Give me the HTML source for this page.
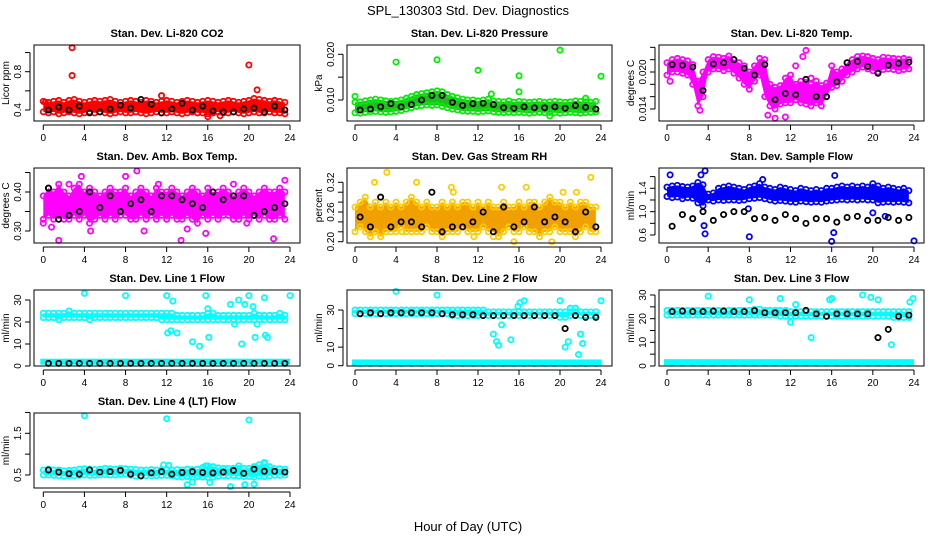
<!DOCTYPE html>
<html><head><meta charset="utf-8"><style>
body{margin:0;background:#fff;}
svg{display:block;font-family:"Liberation Sans",sans-serif;}
</style></head><body>
<svg id="chart" width="936" height="540" viewBox="0 0 936 540">
<text x="468" y="15" text-anchor="middle" font-size="13">SPL_130303  Std. Dev. Diagnostics</text>
<text x="468" y="531" text-anchor="middle" font-size="13">Hour of Day (UTC)</text>
</svg>
<script>
const hours=[0,0.5,1,1.5,2,2.5,3,3.5,4,4.5,5,5.5,6,6.5,7,7.5,8,8.5,9,9.5,10,10.5,11,11.5,12,12.5,13,13.5,14,14.5,15,15.5,16,16.5,17,17.5,18,18.5,19,19.5,20,20.5,21,21.5,22,22.5,23,23.5];
const blkHours=[0.5,1.5,2.5,3.5,4.5,5.5,6.5,7.5,8.5,9.5,10.5,11.5,12.5,13.5,14.5,15.5,16.5,17.5,18.5,19.5,20.5,21.5,22.5,23.5];
const xTicks=[0,4,8,12,16,20,24];

const co2Hi=[0.49,0.48,0.49,0.50,0.48,0.50,0.51,0.49,0.48,0.49,0.50,0.49,0.50,0.51,0.49,0.48,0.49,0.50,0.49,0.48,0.50,0.49,0.48,0.49,0.50,0.49,0.48,0.49,0.50,0.49,0.48,0.49,0.50,0.49,0.48,0.49,0.50,0.49,0.48,0.49,0.50,0.52,0.51,0.50,0.49,0.50,0.49,0.48];
const co2Lo=[0.38,0.37,0.38,0.36,0.37,0.38,0.37,0.36,0.37,0.38,0.37,0.38,0.37,0.36,0.37,0.38,0.37,0.37,0.38,0.37,0.36,0.37,0.38,0.37,0.37,0.38,0.37,0.36,0.37,0.38,0.37,0.37,0.36,0.37,0.38,0.37,0.37,0.38,0.37,0.36,0.37,0.38,0.37,0.37,0.38,0.37,0.37,0.36];
const co2Blk=[0.40,0.43,0.40,0.44,0.37,0.38,0.41,0.45,0.42,0.51,0.46,0.37,0.41,0.47,0.40,0.44,0.39,0.38,0.38,0.41,0.42,0.38,0.44,0.40];
const co2OutX=[2.8,2.8,20,20.8,11.5,16,17.2,0.2];
const co2OutY=[1.05,0.76,0.87,0.61,0.55,0.33,0.34,0.48];

const prHi=[0.0095,0.0096,0.0098,0.0100,0.0102,0.0100,0.0098,0.0097,0.0098,0.0100,0.0104,0.0108,0.0112,0.0114,0.0116,0.0118,0.0120,0.0118,0.0112,0.0108,0.0105,0.0102,0.0100,0.0100,0.0098,0.0100,0.0102,0.0098,0.0097,0.0096,0.0098,0.0095,0.0097,0.0096,0.0095,0.0096,0.0097,0.0095,0.0096,0.0097,0.0096,0.0095,0.0096,0.0098,0.0097,0.0096,0.0095,0.0097];
const prLo=[0.0072,0.0071,0.0073,0.0074,0.0075,0.0074,0.0073,0.0074,0.0075,0.0077,0.0080,0.0083,0.0086,0.0088,0.0089,0.0088,0.0089,0.0086,0.0083,0.0080,0.0078,0.0076,0.0075,0.0075,0.0074,0.0075,0.0076,0.0074,0.0073,0.0072,0.0073,0.0072,0.0073,0.0072,0.0071,0.0072,0.0073,0.0072,0.0073,0.0072,0.0071,0.0072,0.0073,0.0072,0.0071,0.0072,0.0073,0.0074];
const prBlk=[0.0078,0.0080,0.0085,0.0092,0.0085,0.0090,0.0100,0.0110,0.0110,0.0095,0.0088,0.0092,0.0093,0.0090,0.0083,0.0082,0.0085,0.0083,0.0083,0.0085,0.0082,0.0088,0.0084,0.0080];
const prOutX=[0,4,8,12,16,20,24,19,13.3,16,22.5];
const prOutY=[0.0108,0.0183,0.0188,0.0165,0.0153,0.0209,0.0152,0.0065,0.0113,0.0118,0.0104];

const tHi=[0.0215,0.0220,0.0222,0.0220,0.0218,0.0212,0.0185,0.0200,0.0220,0.0225,0.0224,0.0222,0.0226,0.0220,0.0215,0.0210,0.0200,0.0210,0.0222,0.0220,0.0180,0.0175,0.0178,0.0190,0.0195,0.0180,0.0185,0.0183,0.0180,0.0185,0.0178,0.0182,0.0210,0.0200,0.0205,0.0215,0.0220,0.0225,0.0226,0.0225,0.0222,0.0220,0.0224,0.0223,0.0222,0.0221,0.0222,0.0220];
const tLo=[0.0195,0.0200,0.0200,0.0198,0.0195,0.0180,0.0145,0.0160,0.0200,0.0205,0.0205,0.0202,0.0205,0.0198,0.0190,0.0180,0.0172,0.0185,0.0195,0.0160,0.0145,0.0140,0.0148,0.0150,0.0150,0.0155,0.0150,0.0148,0.0145,0.0150,0.0145,0.0160,0.0175,0.0178,0.0185,0.0195,0.0200,0.0205,0.0208,0.0205,0.0202,0.0200,0.0204,0.0205,0.0204,0.0202,0.0204,0.0205];
const tBlk=[0.0212,0.0211,0.0208,0.0170,0.0213,0.0215,0.0220,0.0206,0.0195,0.0212,0.0155,0.0165,0.0163,0.0188,0.0160,0.0160,0.0184,0.0215,0.0217,0.0209,0.0198,0.0211,0.0214,0.0216];
const tOutX=[10.5,11.5,9.8,13.5,12.5,13.2,14,3.2,0.3];
const tOutY=[0.0125,0.0127,0.0130,0.0235,0.0210,0.0225,0.0190,0.0138,0.0185];

const ambHi=[0.39,0.41,0.40,0.42,0.40,0.39,0.41,0.42,0.40,0.41,0.40,0.39,0.40,0.41,0.40,0.40,0.41,0.39,0.40,0.41,0.40,0.39,0.41,0.40,0.40,0.41,0.40,0.39,0.40,0.41,0.40,0.39,0.41,0.40,0.40,0.41,0.40,0.39,0.40,0.41,0.40,0.39,0.40,0.41,0.40,0.40,0.41,0.40];
const ambLo=[0.33,0.34,0.33,0.34,0.33,0.33,0.34,0.33,0.34,0.32,0.33,0.34,0.33,0.34,0.33,0.34,0.34,0.33,0.33,0.34,0.33,0.34,0.33,0.34,0.33,0.34,0.33,0.33,0.34,0.33,0.32,0.34,0.33,0.34,0.33,0.34,0.34,0.33,0.33,0.34,0.33,0.34,0.33,0.34,0.33,0.33,0.34,0.33];
const ambBlk=[0.41,0.33,0.34,0.35,0.40,0.36,0.39,0.35,0.37,0.38,0.35,0.39,0.39,0.38,0.37,0.36,0.40,0.38,0.39,0.39,0.34,0.35,0.36,0.37];
const ambOutX=[1.5,0.8,3.7,8,9.1,9.8,13.4,15.8,22.4,23.5,0,4.6,11.2,14,18.5,19.8,2.5];
const ambOutY=[0.276,0.31,0.44,0.44,0.454,0.30,0.276,0.294,0.28,0.43,0.32,0.30,0.42,0.305,0.42,0.32,0.42];

const rhHi=[0.27,0.28,0.29,0.27,0.28,0.27,0.28,0.27,0.28,0.27,0.28,0.29,0.28,0.27,0.28,0.27,0.27,0.28,0.27,0.28,0.27,0.28,0.28,0.27,0.28,0.27,0.28,0.27,0.27,0.28,0.27,0.27,0.28,0.27,0.28,0.28,0.27,0.28,0.29,0.28,0.28,0.27,0.28,0.27,0.28,0.28,0.27,0.27];
const rhLo=[0.22,0.23,0.22,0.21,0.22,0.21,0.22,0.22,0.22,0.23,0.22,0.22,0.22,0.22,0.23,0.22,0.22,0.21,0.22,0.22,0.22,0.23,0.22,0.22,0.22,0.23,0.22,0.22,0.21,0.22,0.23,0.22,0.22,0.23,0.22,0.22,0.21,0.22,0.22,0.23,0.22,0.22,0.22,0.21,0.22,0.23,0.22,0.22];
const rhBlk=[0.25,0.23,0.29,0.23,0.24,0.24,0.23,0.30,0.22,0.23,0.23,0.24,0.26,0.22,0.27,0.23,0.24,0.27,0.24,0.25,0.24,0.22,0.26,0.23];
const rhOutX=[1.9,3.1,6.0,4.6,9.4,9.6,14.3,16.7,19.2,20.3,21.6,23.0,15.5,11.6,13.5];
const rhOutY=[0.32,0.34,0.32,0.22,0.31,0.30,0.31,0.31,0.20,0.30,0.30,0.33,0.20,0.21,0.21];

const sfHi=[1.42,1.44,1.45,1.43,1.42,1.44,1.50,1.46,1.30,1.32,1.40,1.42,1.44,1.42,1.40,1.38,1.42,1.44,1.48,1.42,1.40,1.38,1.42,1.40,1.38,1.36,1.40,1.38,1.36,1.38,1.36,1.40,1.40,1.42,1.44,1.42,1.44,1.42,1.44,1.42,1.48,1.44,1.40,1.42,1.40,1.38,1.40,1.36];
const sfLo=[1.26,1.24,1.25,1.22,1.24,1.23,1.15,1.10,1.20,1.18,1.20,1.19,1.20,1.20,1.19,1.20,1.22,1.23,1.24,1.22,1.20,1.18,1.19,1.18,1.17,1.16,1.18,1.17,1.16,1.17,1.16,1.18,1.19,1.20,1.21,1.20,1.21,1.20,1.21,1.20,1.20,1.15,1.16,1.17,1.16,1.17,1.16,1.15];
const sfBlk=[0.75,0.95,0.88,1.00,0.85,0.95,1.00,1.00,0.88,0.90,0.85,0.95,0.88,0.80,0.88,0.88,0.82,0.90,0.92,0.85,0.85,0.90,0.85,0.90];
const sfOutX=[0.3,3.3,3.7,3.7,8.0,9.3,16.0,16.2,16.3,20.0,21.2,24.0,3.6,7.9];
const sfOutY=[1.63,1.63,1.70,0.62,0.57,1.55,0.49,0.64,1.62,0.98,0.92,0.50,0.76,1.05];

const l1Hi=[24,24,24,24,24,25,24,24,24,24,24,24,24,24,24,24,24,24,24,24,24,24,24,24,24,24,23,23,23,23,23,23,24,24,23,23,23,23,23,23,23,24,23,23,23,23,24,23];
const l1Lo=[22,22,22,21,22,22,22,22,22,21,22,22,22,22,22,22,22,22,22,22,22,22,22,21,21,21,21,21,21,21,21,21,21,21,21,21,21,21,21,21,21,21,21,21,21,21,21,21];
const l1Base=[1.5,1.5,1.5,1.5,1.5,1.5,1.5,1.5,1.5,1.5,1.5,1.5,1.5,1.5,1.5,1.5,1.5,1.5,1.5,1.5,1.5,1.5,1.5,1.5];
const l1Blk=[1.2,1.2,1.2,1.2,1.2,1.2,1.2,1.2,1.2,1.2,1.2,1.2,1.2,1.2,1.2,1.2,1.2,1.2,1.2,1.2,1.2,1.2,1.2,1.2];
const l1OutX=[4,8,12,12.1,12.4,12.6,13,14.5,15.2,15.8,16,16.1,18.2,18.6,19,19.3,19.6,20,20.4,20.6,20.8,21.5,21.6,21.8,24];
const l1OutY=[33,32,32,15,16,29.5,15,11,9,32,26,13,28,19,30,10,28,32,27,13,19,31,14,13,32];

const l2Hi=[30,30,30,30,30,30,30,30,30,30,30,30,30,30,30,30,30,30,30,30,30,30,30,30,30,30,29,29,29,29,29,29,29,29,29,29,29,29,29,29,29,29,29,29,29,29,29,29];
const l2Lo=[28,28,28,28,28,28,28,28,28,28,28,28,28,28,28,28,28,28,28,27,27,27,27,27,27,27,27,27,27,27,27,27,27,27,27,27,27,27,27,27,26,26,27,27,27,27,27,27];
const l2Base=[1.2,1.2,1.2,1.2,1.2,1.2,1.2,1.2,1.2,1.2,1.2,1.2,1.2,1.2,1.2,1.2,1.2,1.2,1.2,1.2,1.2,1.2,1.2,1.2];
const l2Blk=[28,28.5,28,28.5,28.5,28.5,28.5,28.5,28,27.5,27.5,27.5,27,27,27,27,27,27,27,27,20,27,26,26];
const l2OutX=[4,8,13.5,13.8,14,14.3,15.2,15.9,16.1,16.5,20,20.5,20.8,21,21.5,21.8,22,22.2,24];
const l2OutY=[40,38,17,13,11,22,14,32,34,35,35,10,13,31,31,6,17,12,35];

const l3Hi=[23.5,23.5,23.5,23.5,23.5,23.5,23.5,23.5,23.5,23.5,23.5,23.5,23.5,23.5,23.5,23.5,23.5,24,24,23.5,23.5,23.5,23.5,23.5,23,23,23,23,23,23,23,23,23,23,23,23,23,23,23,23,23,23,23,23,23,23,23,23];
const l3Lo=[21.5,21.5,21.5,21.5,21.5,21.5,21.5,21.5,21.5,21.5,21.5,21.5,21.5,21.5,21.5,21.5,21.5,21.5,21.5,21.5,21.5,21.5,21,21,21,21,21,21,21,21,21,21,21,21,21,21,21,21,21,21,21,21,21,21,20.5,20.5,20.5,20.5];
const l3Base=[1.2,1.2,1.2,1.2,1.2,1.2,1.2,1.2,1.2,1.2,1.2,1.2,1.2,1.2,1.2,1.2,1.2,1.2,1.2,1.2,1.2,1.2,1.2,1.2];
const l3Blk=[23,23.2,23,23,23.2,23.2,23,23,23.4,22.5,22.5,22.5,22.5,23.5,22,21,22,22,22,22,12,15.5,21,21.5];
const l3OutX=[4,8,11,12,12.5,14,15.8,16,19,19.8,20.5,21.8,23.6,23.9];
const l3OutY=[29.5,28,28.5,18.5,26,12,28,28.5,30,29,28,9,27,28.5];

const l4Hi=[0.62,0.64,0.62,0.62,0.60,0.61,0.62,0.64,0.65,0.64,0.63,0.64,0.66,0.65,0.64,0.66,0.65,0.64,0.63,0.62,0.62,0.63,0.62,0.63,0.63,0.62,0.63,0.62,0.64,0.63,0.64,0.68,0.72,0.70,0.67,0.66,0.66,0.66,0.65,0.66,0.66,0.70,0.75,0.78,0.70,0.65,0.65,0.64];
const l4Lo=[0.50,0.50,0.49,0.48,0.47,0.48,0.48,0.49,0.50,0.49,0.49,0.50,0.51,0.50,0.50,0.51,0.52,0.49,0.47,0.47,0.48,0.48,0.48,0.49,0.49,0.48,0.46,0.45,0.46,0.45,0.46,0.45,0.44,0.45,0.47,0.48,0.48,0.48,0.47,0.46,0.46,0.45,0.47,0.46,0.48,0.49,0.49,0.50];
const l4Blk=[0.62,0.57,0.53,0.52,0.62,0.57,0.58,0.61,0.52,0.48,0.55,0.58,0.52,0.56,0.58,0.56,0.55,0.57,0.61,0.54,0.64,0.59,0.59,0.57];
const l4OutX=[4,12,20,11.7,12.2,14,14.5,15.8,16.2,18.2,19,19.6,20.5,21.5];
const l4OutY=[1.92,1.85,1.82,0.74,0.73,0.27,0.33,0.72,0.32,0.22,0.72,0.27,0.28,0.80];

const NS='http://www.w3.org/2000/svg';
const svg=document.getElementById('chart');
function mk(tag,attrs,parent){const e=document.createElementNS(NS,tag);for(const k in attrs)e.setAttribute(k,attrs[k]);(parent||svg).appendChild(e);return e;}

const cols=[{l:34,r:300,x0:43.3,x1:290},{l:347,r:612,x0:355,x1:601},{l:659,r:924,x0:667,x1:914}];
const rows=[{t:45,b:121},{t:168,b:243},{t:290,b:366},{t:413,b:488}];

function panel(p){
  const c=cols[p.col],rw=rows[p.row];
  const g=mk('g',{});
  
  
  const xs=h=>c.x0+(h/24)*(c.x1-c.x0);
  const ys=v=>p.yp[0]+(v-p.yv[0])/(p.yv[1]-p.yv[0])*(p.yp[1]-p.yp[0]);
  const cp='clip'+p.name;
  const defs=mk('defs',{},g);const clip=mk('clipPath',{id:cp},defs);mk('rect',{x:c.l,y:rw.t-4,width:c.r-c.l,height:rw.b-rw.t+8},clip);
  const plot=mk('g',{'clip-path':'url(#'+cp+')'},g);
  (p.bands||[]).forEach(b=>{
    let pts=hours.map((h,i)=>xs(h)+','+ys(b.hi[i])).concat(hours.slice().reverse().map((h,j)=>xs(h)+','+ys(b.lo[hours.length-1-j])));
    const poly=mk('polygon',{points:pts.join(' '),fill:b.fill||b.color,stroke:'none'},plot);
    
    
    [b.hi,b.lo].forEach(arr=>arr.forEach((v,i)=>{
      const ci=mk('circle',{cx:xs(hours[i]),cy:ys(v),r:2.6,fill:'none',stroke:b.color,'stroke-width':1.8},plot);
      
      
    }));
  });
  (p.bases||[]).forEach(b=>{
    const rr=mk('rect',{x:xs(0)-3,y:ys(b.v[0])-4,width:xs(24)-xs(0)+3,height:6,fill:b.color},plot);
    
    
    b.v.forEach((v,i)=>{
      const ci=mk('circle',{cx:xs(blkHours[i]),cy:ys(v),r:2.6,fill:'none',stroke:b.color,'stroke-width':1.8},plot);
      
      
    });
  });
  if(p.outX)p.outX.forEach((x,i)=>{
    const ci=mk('circle',{cx:xs(x),cy:ys(p.outY[i]),r:2.6,fill:'none',stroke:p.outColor,'stroke-width':1.8},plot);
    
    
  });
  p.blk.forEach((v,i)=>{
    const ci=mk('circle',{cx:xs(blkHours[i]),cy:ys(v),r:2.6,fill:'none',stroke:'#000','stroke-width':1.8},plot);
    
    
  });
  mk('rect',{x:c.l,y:rw.t,width:c.r-c.l,height:rw.b-rw.t,fill:'none',stroke:'#000','stroke-width':1},g);
  // x axis
  mk('line',{x1:xs(0),x2:xs(24),y1:rw.b+4,y2:rw.b+4,stroke:'#000'},g);
  xTicks.forEach(t=>{
    mk('line',{x1:xs(t),x2:xs(t),y1:rw.b+4,y2:rw.b+9,stroke:'#000'},g);
    const tx=mk('text',{x:xs(t),y:rw.b+20,'text-anchor':'middle','font-size':10},g);tx.textContent=t;
  });
  // y axis
  const yT=p.ticks.map(ys);
  mk('line',{x1:c.l-4,x2:c.l-4,y1:Math.min(...yT),y2:Math.max(...yT),stroke:'#000'},g);
  p.ticks.forEach(t=>mk('line',{x1:c.l-9,x2:c.l-4,y1:ys(t),y2:ys(t),stroke:'#000'},g));
  p.labels.forEach(t=>{
    const x=c.l-13,y=ys(t);
    const tx=mk('text',{x:x,y:y,'text-anchor':'middle','font-size':10,transform:'rotate(-90 '+x+' '+y+')'},g);tx.textContent=p.fmt?p.fmt(t):t;
  });
  const yl=c.l-25,ym=(rw.t+rw.b)/2;
  const yt=mk('text',{x:yl,y:ym,'text-anchor':'middle','font-size':10,transform:'rotate(-90 '+yl+' '+ym+')'},g);yt.textContent=p.ylab;
  
  
  const ti=mk('text',{x:(c.l+c.r)/2,y:rw.t-8,'text-anchor':'middle','font-size':11,'font-weight':'bold'},g);ti.textContent=p.title;
  
  
}
const f3=v=>v.toFixed(3),f2=v=>v.toFixed(2),f1=v=>v.toFixed(1);
panel({name:'co2-panel',col:0,row:0,title:'Stan. Dev. Li-820 CO2',ylab:'Licor ppm',yv:[0.4,0.8],yp:[110,71.7],ticks:[0.4,0.6,0.8,1.0],labels:[0.4,0.8],fmt:f1,
  bands:[{hi:co2Hi,lo:co2Lo,color:'#ff0000'}],blk:co2Blk,outX:co2OutX,outY:co2OutY,outColor:'#ff0000'});
panel({name:'pressure-panel',col:1,row:0,title:'Stan. Dev. Li-820 Pressure',ylab:'kPa',yv:[0.010,0.020],yp:[100,54.3],ticks:[0.010,0.015,0.020],labels:[0.010,0.020],fmt:f3,
  bands:[{hi:prHi,lo:prLo,color:'#00ee00',fill:'#22bb22'}],blk:prBlk,outX:prOutX,outY:prOutY,outColor:'#00ee00'});
panel({name:'temp-panel',col:2,row:0,title:'Stan. Dev. Li-820 Temp.',ylab:'degrees C',yv:[0.014,0.020],yp:[109,72],ticks:[0.014,0.016,0.018,0.020,0.022,0.024],labels:[0.014,0.020],fmt:f3,
  bands:[{hi:tHi,lo:tLo,color:'#ff00ff'}],blk:tBlk,outX:tOutX,outY:tOutY,outColor:'#ff00ff'});
panel({name:'amb-temp-panel',col:0,row:1,title:'Stan. Dev. Amb. Box Temp.',ylab:'degrees C',yv:[0.30,0.40],yp:[231,192],ticks:[0.30,0.35,0.40,0.45],labels:[0.30,0.40],fmt:f2,
  bands:[{hi:ambHi,lo:ambLo,color:'#ff00ff'}],blk:ambBlk,outX:ambOutX,outY:ambOutY,outColor:'#ff00ff'});
panel({name:'rh-panel',col:1,row:1,title:'Stan. Dev. Gas Stream RH',ylab:'percent',yv:[0.20,0.32],yp:[241.7,182.3],ticks:[0.20,0.22,0.24,0.26,0.28,0.30,0.32],labels:[0.20,0.26,0.32],fmt:f2,
  bands:[{hi:rhHi,lo:rhLo,color:'#ffcc00',fill:'#f0a000'}],blk:rhBlk,outX:rhOutX,outY:rhOutY,outColor:'#ffcc00'});
panel({name:'sample-flow-panel',col:2,row:1,title:'Stan. Dev. Sample Flow',ylab:'ml/min',yv:[0.6,1.4],yp:[235,188.3],ticks:[0.6,0.8,1.0,1.2,1.4,1.6],labels:[0.6,1.0,1.4],fmt:f1,
  bands:[{hi:sfHi,lo:sfLo,color:'#0000ff'}],blk:sfBlk,outX:sfOutX,outY:sfOutY,outColor:'#0000ff'});
panel({name:'line1-panel',col:0,row:2,title:'Stan. Dev. Line 1 Flow',ylab:'ml/min',yv:[0,30],yp:[366,300],ticks:[0,10,20,30],labels:[0,10,20,30],
  bands:[{hi:l1Hi,lo:l1Lo,color:'#00ffff'}],bases:[{v:l1Base,color:'#00ffff'}],blk:l1Blk,outX:l1OutX,outY:l1OutY,outColor:'#00ffff'});
panel({name:'line2-panel',col:1,row:2,title:'Stan. Dev. Line 2 Flow',ylab:'ml/min',yv:[0,30],yp:[365.7,310],ticks:[0,10,20,30],labels:[0,10,30],
  bands:[{hi:l2Hi,lo:l2Lo,color:'#00ffff'}],bases:[{v:l2Base,color:'#00ffff'}],blk:l2Blk,outX:l2OutX,outY:l2OutY,outColor:'#00ffff'});
panel({name:'line3-panel',col:2,row:2,title:'Stan. Dev. Line 3 Flow',ylab:'ml/min',yv:[0,30],yp:[366,295],ticks:[0,5,10,15,20,25,30],labels:[0,10,20,30],
  bands:[{hi:l3Hi,lo:l3Lo,color:'#00ffff'}],bases:[{v:l3Base,color:'#00ffff'}],blk:l3Blk,outX:l3OutX,outY:l3OutY,outColor:'#00ffff'});
panel({name:'line4-panel',col:0,row:3,title:'Stan. Dev. Line 4 (LT) Flow',ylab:'ml/min',yv:[0.5,1.5],yp:[475,433.3],ticks:[0.5,1.0,1.5,2.0],labels:[0.5,1.5],fmt:f1,
  bands:[{hi:l4Hi,lo:l4Lo,color:'#00ffff'}],blk:l4Blk,outX:l4OutX,outY:l4OutY,outColor:'#00ffff'});
</script>
</body></html>
